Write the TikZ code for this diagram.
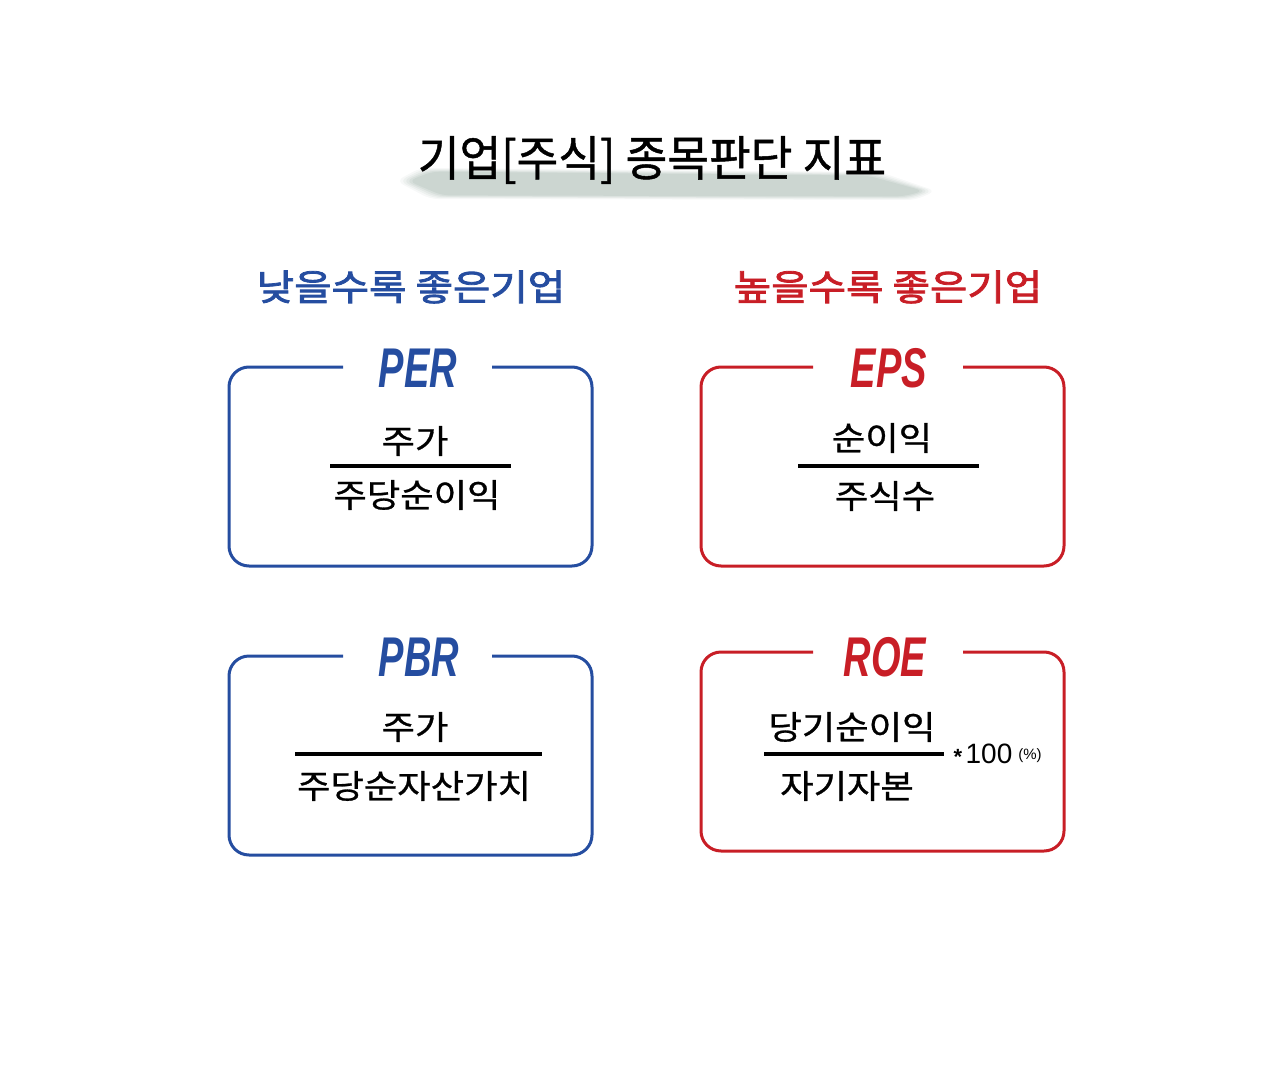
\documentclass[tikz,border=0pt]{standalone}
\usepackage{fontspec}
\usepackage{graphicx}
\setmainfont{Noto Sans CJK KR}
\newfontfamily\headfont{Noto Sans CJK KR}[FakeBold=2.2]
\newfontfamily\titlekr{Noto Sans CJK KR}[FakeBold=1.0]
\newfontfamily\formfont{Noto Sans CJK KR}[FakeBold=0.8]
\newfontfamily\latinfont{Liberation Sans}
\newcommand{\wx}[2]{\scalebox{#1}[1]{#2}}
\definecolor{blueC}{RGB}{37,77,160}
\definecolor{redC}{RGB}{200,30,38}
\definecolor{brushC}{RGB}{140,162,152}
\tikzset{
  frame/.style={line width=3pt, rounded corners=20pt},
  tagtitle/.style={inner sep=0pt, font=\latinfont\fontsize{56}{60}\selectfont\bfseries\itshape},
  heading/.style={inner sep=0pt, font=\headfont\fontsize{36}{40}\selectfont},
  fractext/.style={inner sep=0pt, font=\formfont\fontsize{33}{36}\selectfont},
  fracline/.style={line width=3.5pt},
}
\begin{document}
\begin{tikzpicture}[x=1pt,y=-1pt]
\useasboundingbox (0,0) rectangle (1280,1070);
% brush shadow behind main title
\foreach \d/\o in {0/0.07,3/0.09,6/0.11,9/0.13,12/0.15}{
  \fill[brushC, opacity=\o, rounded corners=8pt]
    (396+\d,181) -- (420+\d,168+\d*0.3) -- (880-\d,172+\d*0.3) -- (936-\d,191) -- (915-\d,200-\d*0.3) -- (430+\d,199-\d*0.3) -- cycle;
}
\node[inner sep=0pt, font=\titlekr\fontsize{48}{52}\selectfont] (title) at (652,160) {\wx{0.945}{기업[주식] 종목판단 지표}};
% headings
\node[heading, text=blueC] (lowH) at (411,287) {\wx{1.13}{낮을수록 좋은기업}};
\node[heading, text=redC] (highH) at (888,287) {\wx{1.13}{높을수록 좋은기업}};
% PER box
\draw[frame, blueC] (343,367) -- (229,367) -- (229,566) -- (592,566) -- (592,367) -- (492,367);
\node[tagtitle, text=blueC] (per) at (418,368) {\wx{0.68}{PER}};
\node[fractext] (perN) at (415,441) {\wx{1.1}{주가}};
\coordinate (perL) at (330,466); \coordinate (perR) at (511,466);
\draw[fracline] (perL) -- (perR);
\node[fractext] (perD) at (417,495) {\wx{1.1}{주당순이익}};
% EPS box
\draw[frame, redC] (813,367) -- (701,367) -- (701,566) -- (1064,566) -- (1064,367) -- (963,367);
\node[tagtitle, text=redC] (eps) at (889,368) {\wx{0.68}{EPS}};
\node[fractext] (epsN) at (882,438) {\wx{1.1}{순이익}};
\coordinate (epsL) at (798,466); \coordinate (epsR) at (979,466);
\draw[fracline] (epsL) -- (epsR);
\node[fractext] (epsD) at (885,496) {\wx{1.1}{주식수}};
% PBR box
\draw[frame, blueC] (343,656) -- (229,656) -- (229,855) -- (592,855) -- (592,656) -- (492,656);
\node[tagtitle, text=blueC] (pbr) at (419,657) {\wx{0.68}{PBR}};
\node[fractext] (pbrN) at (415,727) {\wx{1.1}{주가}};
\coordinate (pbrL) at (295,754); \coordinate (pbrR) at (542,754);
\draw[fracline] (pbrL) -- (pbrR);
\node[fractext] (pbrD) at (414,786) {\wx{1.1}{주당순자산가치}};
% ROE box
\draw[frame, redC] (813,652) -- (701,652) -- (701,851) -- (1064,851) -- (1064,652) -- (963,652);
\node[tagtitle, text=redC] (roe) at (885,657) {\wx{0.68}{ROE}};
\node[fractext] (roeN) at (852,727) {\wx{1.1}{당기순이익}};
\coordinate (roeL) at (764,754); \coordinate (roeR) at (944,754);
\draw[fracline] (roeL) -- (roeR);
\node[fractext] (roeD) at (847,786) {\wx{1.1}{자기자본}};
\node[inner sep=0pt, font=\latinfont\fontsize{22}{24}\selectfont\bfseries] (star) at (958,757) {*};
\node[inner sep=0pt, font=\latinfont\fontsize{28}{30}\selectfont] (hund) at (989,754) {100};
\node[inner sep=0pt, font=\latinfont\fontsize{15}{17}\selectfont] (pct) at (1030,756) {(\%)};
\end{tikzpicture}
\end{document}
